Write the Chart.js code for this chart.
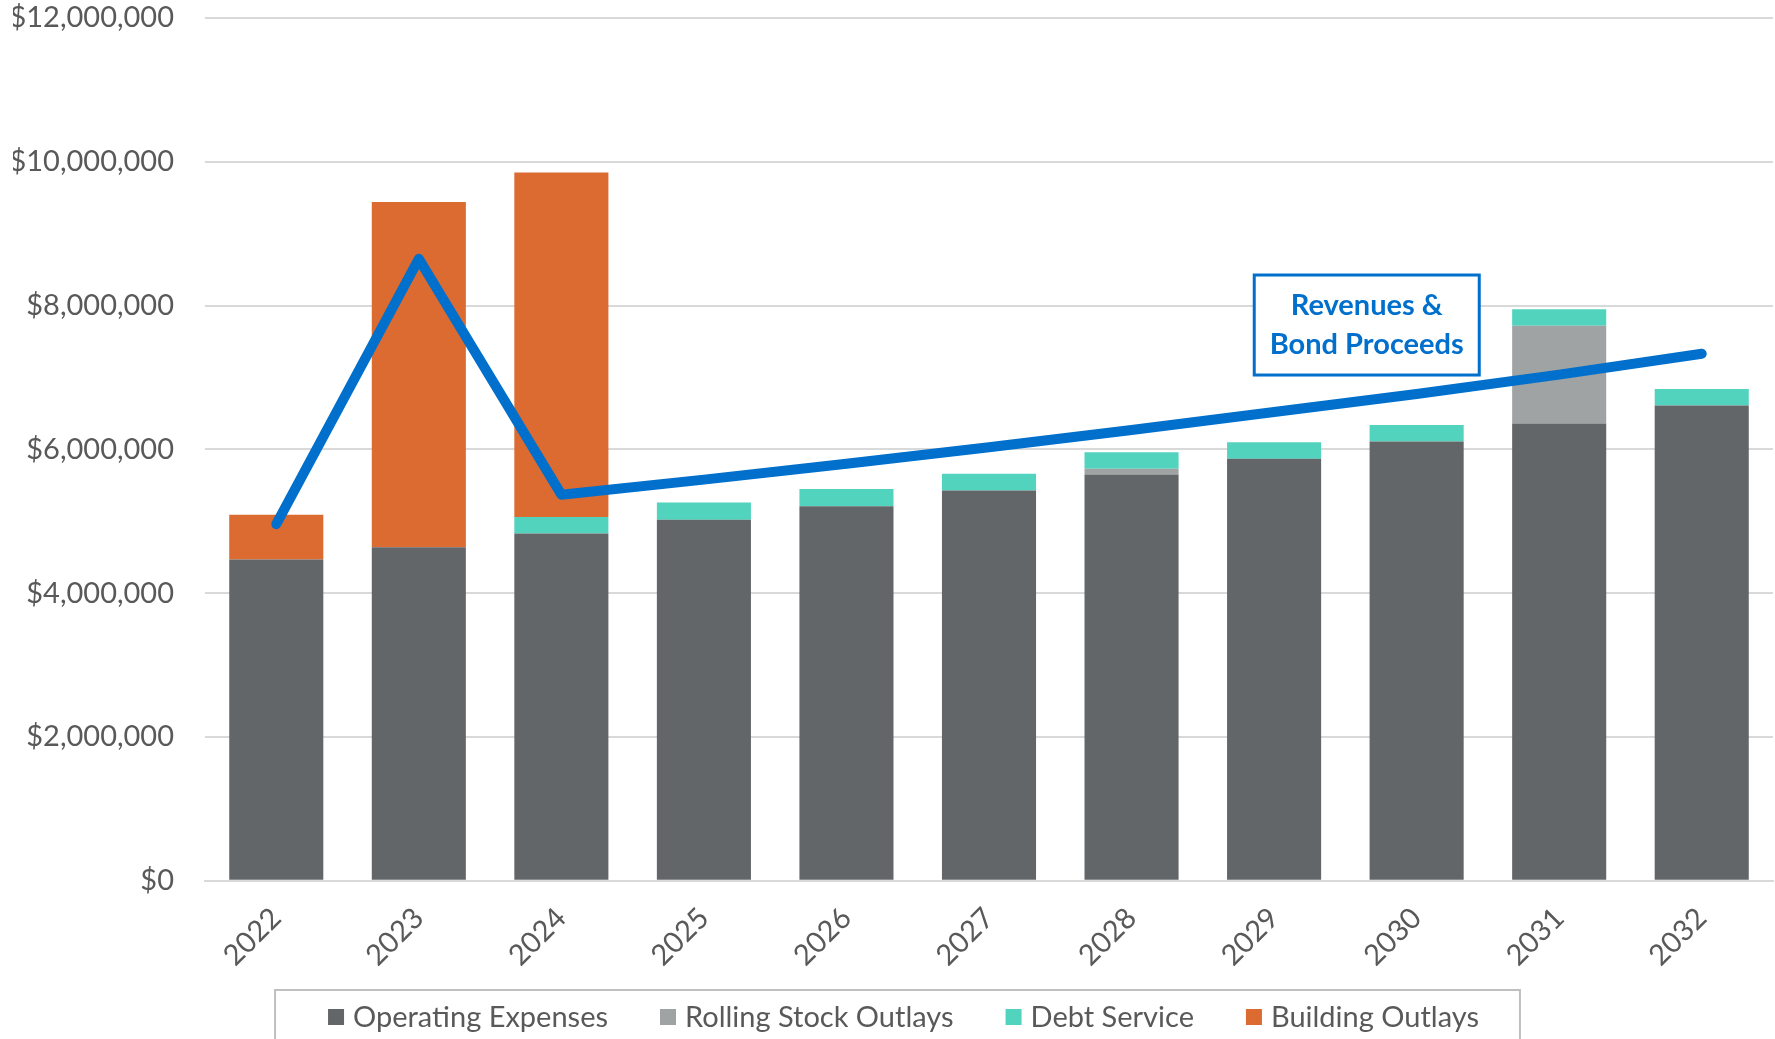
<!DOCTYPE html>
<html>
<head>
<meta charset="utf-8">
<script src="https://cdn.jsdelivr.net/npm/chart.js@4.4.0/dist/chart.umd.min.js"></script>
<style>
  html, body { margin: 0; padding: 0; background: #fff; }
  #wrap { width: 1775px; height: 1039px; }
</style>
</head>
<body>
<div id="wrap"><canvas id="chart"></canvas></div>
<script>
// DATA
const years = ["2022", "2023", "2024", "2025", "2026", "2027", "2028", "2029", "2030", "2031", "2032"];
const operatingExpenses = [4470000, 4640000, 4830000, 5020000, 5210000, 5430000, 5650000, 5870000, 6110000, 6360000, 6610000];
const rollingStockOutlays = [0, 0, 0, 0, 0, 0, 80000, 0, 0, 1360000, 0];
const debtService = [0, 0, 230000, 240000, 240000, 230000, 230000, 230000, 230000, 230000, 230000];
const buildingOutlays = [620000, 4800000, 4790000, 0, 0, 0, 0, 0, 0, 0, 0];
const revenuesBondProceeds = [4960000, 8650000, 5370000, 5580000, 5800000, 6030000, 6270000, 6520000, 6770000, 7040000, 7330000];
const yMax = 12000000;
const yStep = 2000000;
const calloutLines = ["Revenues &", "Bond Proceeds"];

const FONT = "Lato, 'Open Sans', sans-serif";
const TEXT_COLOR = "#595959";

//CALLOUT BOX + LEGEND WITH FRAME
const plugin = {
  id: "plugin",
  afterDraw(chart) {
    const { ctx, scales: { x, y } } = chart;
    ctx.save();

    // callout box, anchored on the scales
    const cx = x.getPixelForValue(7) + 0.65 * (x.getPixelForValue(8) - x.getPixelForValue(7));
    const cy = y.getPixelForValue(7730000);
    const w = 225, h = 100;
    ctx.fillStyle = "#ffffff";
    ctx.fillRect(cx - w / 2, cy - h / 2, w, h);
    ctx.strokeStyle = "#0070CC";
    ctx.lineWidth = 3;
    ctx.strokeRect(cx - w / 2, cy - h / 2, w, h);
    ctx.fillStyle = "#0070CC";
    ctx.font = `bold 29px ${FONT}`;
    ctx.textAlign = "center";
    ctx.textBaseline = "middle";
    ctx.fillText(calloutLines[0], cx, cy - 19);
    ctx.fillText(calloutLines[1], cx, cy + 20);

    // legend
    const items = chart.data.datasets.filter((d) => d.type !== "line");
    ctx.font = `29px ${FONT}`;
    const box = 16, gapText = 9, gapItem = 52;
    const widths = items.map((d) => box + gapText + ctx.measureText(d.label).width);
    const total = widths.reduce((a, b) => a + b, 0) + gapItem * (items.length - 1);
    let lx = chart.width / 2 + 16 - total / 2;
    const ly = chart.height - 22;

    ctx.strokeStyle = "#BFBFBF";
    ctx.lineWidth = 2;
    ctx.strokeRect(lx - 53, chart.height - 49, total + 94, 60);

    ctx.textAlign = "left";
    for (let i = 0; i < items.length; i++) {
      ctx.fillStyle = items[i].backgroundColor;
      ctx.fillRect(lx, ly - box / 2, box, box);
      ctx.fillStyle = TEXT_COLOR;
      ctx.fillText(items[i].label, lx + box + gapText, ly + 1);
      lx += widths[i] + gapItem;
    }
    ctx.restore();
  },
};

const barStyle = { type: "bar", order: 1, stack: "costs", barPercentage: 0.66, categoryPercentage: 1, borderWidth: 0 };

const config = {
  type: "bar",
  data: {
    labels: years,
    datasets: [
      { ...barStyle, label: "Operating Expenses", data: operatingExpenses, backgroundColor: "#636669" },
      { ...barStyle, label: "Rolling Stock Outlays", data: rollingStockOutlays, backgroundColor: "#A0A3A3" },
      { ...barStyle, label: "Debt Service", data: debtService, backgroundColor: "#52D3BE" },
      { ...barStyle, label: "Building Outlays", data: buildingOutlays, backgroundColor: "#DB6B30" },
      {
        type: "line",
        order: 0,
        stack: "revenue",
        label: "Revenues & Bond Proceeds",
        data: revenuesBondProceeds,
        borderColor: "#0070CC",
        backgroundColor: "#0070CC",
        borderWidth: 10,
        borderCapStyle: "round",
        borderJoinStyle: "round",
        pointRadius: 0,
        fill: false,
        tension: 0,
      },
    ],
  },
  options: {
    responsive: true,
    maintainAspectRatio: false,
    animation: false,
    layout: { padding: { top: 0, left: 13, right: 2, bottom: 54 } },
    plugins: {
      legend: { display: false },
      tooltip: { enabled: false },
    },
    scales: {
      x: {
        stacked: true,
        grid: { display: false },
        border: { display: true, color: "#D9D9D9", width: 2 },
        ticks: {
          color: TEXT_COLOR,
          font: { family: FONT, size: 29 },
          maxRotation: 45,
          minRotation: 45,
          padding: 12,
        },
      },
      y: {
        stacked: true,
        min: 0,
        max: yMax,
        border: { display: false },
        grid: { color: "#D9D9D9", lineWidth: 2, drawTicks: false },
        ticks: {
          stepSize: yStep,
          color: TEXT_COLOR,
          font: { family: FONT, size: 29 },
          padding: 31,
          callback: (v) => "$" + Number(v).toLocaleString("en-US"),
        },
        afterFit(scale) {
          scale.width = 192;
          scale.paddingTop = 18;
          scale.paddingBottom = 18;
        },
      },
    },
  },
  plugins: [plugin],
};

const myChart = new Chart(document.getElementById("chart"), config);
</script>
</body>
</html>
